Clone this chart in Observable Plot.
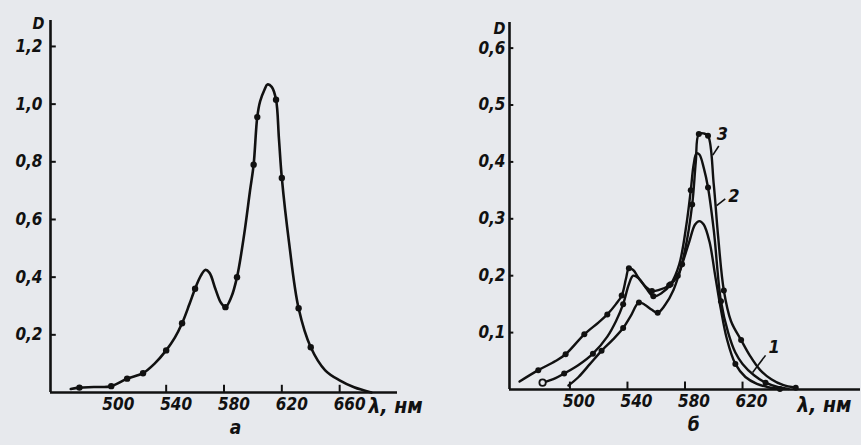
<!DOCTYPE html>
<html><head><meta charset="utf-8">
<script src="https://cdn.jsdelivr.net/npm/d3@7"></script>
<script src="https://cdn.jsdelivr.net/npm/@observablehq/plot@0.6"></script>
<style>
html,body{margin:0;padding:0;background:#e7e9ed;}
#wrap{position:relative;width:861px;height:445px;overflow:hidden;}
#wrap svg{position:absolute;top:0;}
</style>
</head><body><div id="wrap"></div>
<script>
// Panel а
const lamA = [474, 480, 490, 502, 513, 524, 532, 540, 546, 551, 556, 560, 564, 567, 570, 574, 578, 581, 585, 589, 594, 598, 600.5, 603, 605, 608, 610, 613, 616, 618, 620, 625, 631.6, 640, 650, 660, 670, 682];
const dA   = [0.012, 0.017, 0.019, 0.022, 0.048, 0.067, 0.1, 0.146, 0.19, 0.24, 0.305, 0.36, 0.405, 0.425, 0.415, 0.36, 0.31, 0.296, 0.33, 0.40, 0.55, 0.70, 0.79, 0.955, 1.01, 1.05, 1.068, 1.06, 1.015, 0.88, 0.744, 0.52, 0.292, 0.157, 0.077, 0.042, 0.018, 0.0];
const markA = [480, 502, 513, 524, 540, 551, 560, 581, 589, 600.5, 603, 616, 620, 631.6, 640];
const xTicksA = [540, 580, 620, 660];
const xLabelsA = [500, 540, 580, 620, 660];
const yTicksA = [0.2, 0.4, 0.6, 0.8, 1.0, 1.2];

// Panel б
const lam3 = [465, 478, 490, 497, 510, 520, 526, 532, 536, 539, 541, 544, 548, 553, 557, 562, 569, 575, 580, 585, 587.5, 589.6, 593, 596, 600, 603, 607, 612, 619, 625, 632, 640, 648, 657];
const d3   = [0.014, 0.034, 0.05, 0.062, 0.097, 0.118, 0.132, 0.15, 0.165, 0.195, 0.213, 0.21, 0.195, 0.18, 0.173, 0.175, 0.183, 0.2, 0.245, 0.325, 0.40, 0.449, 0.45, 0.446, 0.36, 0.27, 0.174, 0.12, 0.087, 0.06, 0.035, 0.018, 0.008, 0.003];
const mark3 = [478, 497, 510, 526, 536, 541, 557, 569, 575, 585, 589.6, 596, 607, 619, 657];
const lam2 = [481, 490, 496, 506, 516, 526, 532, 537, 541, 544, 548, 553, 558, 564, 570, 576, 581, 584, 586, 588, 590, 593, 596, 600, 605, 610, 615, 620, 628, 636, 645, 652];
const d2   = [0.012, 0.02, 0.028, 0.043, 0.063, 0.093, 0.12, 0.15, 0.185, 0.2, 0.195, 0.178, 0.164, 0.17, 0.185, 0.22, 0.29, 0.35, 0.395, 0.415, 0.413, 0.39, 0.355, 0.28, 0.155, 0.1, 0.065, 0.045, 0.025, 0.012, 0.004, 0.001];
const mark2 = [496, 516, 537, 558, 570, 584, 596, 605, 636];
const lam1 = [499, 506, 514, 522, 530, 537, 542, 548, 552, 557, 561, 566, 572, 578, 583, 587, 590, 593, 597, 601, 605, 609, 615, 622, 630, 638, 646];
const d1   = [0.007, 0.022, 0.045, 0.068, 0.088, 0.108, 0.128, 0.153, 0.149, 0.14, 0.135, 0.148, 0.175, 0.22, 0.26, 0.29, 0.296, 0.29, 0.26, 0.2, 0.14, 0.09, 0.045, 0.022, 0.01, 0.004, 0.001];
const mark1 = [522, 537, 548, 561, 578, 615, 646];
const open2 = [481];
const xTicksB = [500, 540, 580, 620];
const yTicksB = [0.1, 0.2, 0.3, 0.4, 0.5, 0.6];
const curveLabels = ["1", "2", "3"];
const curveLabelLam = [642, 614, 606];
const curveLabelD = [0.074, 0.34, 0.449];
const leaderLam1 = [636, 608, 603.5];
const leaderD1 = [0.06, 0.335, 0.428];
const leaderLam2 = [627, 602, 599.3];
const leaderD2 = [0.03, 0.323, 0.412];

const FONT = "'DejaVu Sans Condensed', 'DejaVu Sans', sans-serif";
const fmt = d => d.toFixed(1).replace(".", ",");
const baseStyle = {fontFamily: FONT, fontSize: "17px", fontWeight: "bold", fontStyle: "italic", background: "transparent", color: "#111", overflow: "visible"};

function pts(l, d) { return l.map((x, i) => ({x, y: d[i]})); }
function marked(l, d, m) { return pts(l, d).filter(p => m.includes(p.x)); }

const A = pts(lamA, dA);
const left = Plot.plot({
  width: 430, height: 445,
  marginLeft: 50, marginRight: 33, marginTop: 20, marginBottom: 53,
  x: {domain: [460, 700], label: null}, y: {domain: [0, 1.29], label: null},
  style: baseStyle,
  marks: [
    Plot.ruleY([0], {stroke: "#111", strokeWidth: 2.6}),
    Plot.ruleX([460], {stroke: "#111", strokeWidth: 2.6}),
    Plot.ruleX(xTicksA, {x: d => d, y1: 0, y2: 0.025, stroke: "#111", strokeWidth: 2}),
    Plot.ruleY(yTicksA, {y: d => d, x1: 460, x2: 464, stroke: "#111", strokeWidth: 2}),
    Plot.line(A, {x: "x", y: "y", curve: "catmull-rom", stroke: "#111", strokeWidth: 2.6}),
    Plot.dot(marked(lamA, dA, markA), {x: "x", y: "y", r: 3.2, fill: "#111"}),
    Plot.axisX({ticks: xLabelsA, tickSize: 0, tickPadding: 5, dx: 10, tickFormat: d => String(d), fontSize: 17, label: null}),
    Plot.axisY({ticks: yTicksA, tickSize: 0, tickPadding: 8, tickFormat: fmt, fontSize: 17, label: null}),
    Plot.text(["λ, нм"], {x: 680, y: 0, dy: 14, textAnchor: "start", fontSize: 21, fontWeight: "bold"}),
    Plot.text(["а"], {x: 588, y: 0, dy: 35, fontSize: 19, fontWeight: "bold"}),
    Plot.text(["D"], {frameAnchor: "top-left", dx: -18, dy: -3, fontSize: 16, fontWeight: "bold"})
  ]
});
left.style.left = "0px";

const right = Plot.plot({
  width: 431, height: 445,
  marginLeft: 79, marginRight: 1, marginTop: 22, marginBottom: 56,
  x: {domain: [458, 702], label: null}, y: {domain: [0, 0.645], label: null},
  style: baseStyle,
  marks: [
    Plot.ruleY([0], {stroke: "#111", strokeWidth: 2.6}),
    Plot.ruleX([458], {stroke: "#111", strokeWidth: 2.6}),
    Plot.ruleX(xTicksB, {x: d => d, y1: 0, y2: 0.013, stroke: "#111", strokeWidth: 2}),
    Plot.ruleY(yTicksB, {y: d => d, x1: 458, x2: 461, stroke: "#111", strokeWidth: 2}),
    Plot.line(pts(lam1, d1), {x: "x", y: "y", curve: "catmull-rom", stroke: "#111", strokeWidth: 2.4}),
    Plot.line(pts(lam2, d2), {x: "x", y: "y", curve: "catmull-rom", stroke: "#111", strokeWidth: 2.4}),
    Plot.line(pts(lam3, d3), {x: "x", y: "y", curve: "catmull-rom", stroke: "#111", strokeWidth: 2.4}),
    Plot.dot(marked(lam1, d1, mark1), {x: "x", y: "y", r: 3, fill: "#111"}),
    Plot.dot(marked(lam2, d2, mark2), {x: "x", y: "y", r: 3, fill: "#111"}),
    Plot.dot(marked(lam3, d3, mark3), {x: "x", y: "y", r: 3, fill: "#111"}),
    Plot.dot(marked(lam2, d2, open2), {x: "x", y: "y", r: 3.2, fill: "#e7e9ed", stroke: "#111", strokeWidth: 1.8}),
    Plot.link(curveLabels, {x1: (d, i) => leaderLam1[i], y1: (d, i) => leaderD1[i], x2: (d, i) => leaderLam2[i], y2: (d, i) => leaderD2[i], stroke: "#111", strokeWidth: 1.6}),
    Plot.text(curveLabels, {x: (d, i) => curveLabelLam[i], y: (d, i) => curveLabelD[i], text: d => d, fontSize: 18, fontWeight: "bold"}),
    Plot.axisX({ticks: xTicksB, tickSize: 0, tickPadding: 5, dx: 9, tickFormat: d => String(d), fontSize: 17, label: null}),
    Plot.axisY({ticks: yTicksB, tickSize: 0, tickPadding: 4, tickFormat: fmt, fontSize: 17, label: null}),
    Plot.text(["λ, нм"], {x: 658, y: 0, dy: 16, textAnchor: "start", fontSize: 21, fontWeight: "bold"}),
    Plot.text(["б"], {x: 586, y: 0, dy: 35, fontSize: 19, fontWeight: "bold"}),
    Plot.text(["D"], {frameAnchor: "top-left", dx: -16, dy: 0, fontSize: 16, fontWeight: "bold", fontStyle: "italic"})
  ]
});
right.style.left = "430px";

const wrap = document.getElementById("wrap");
wrap.appendChild(left);
wrap.appendChild(right);
</script>
</body></html>
